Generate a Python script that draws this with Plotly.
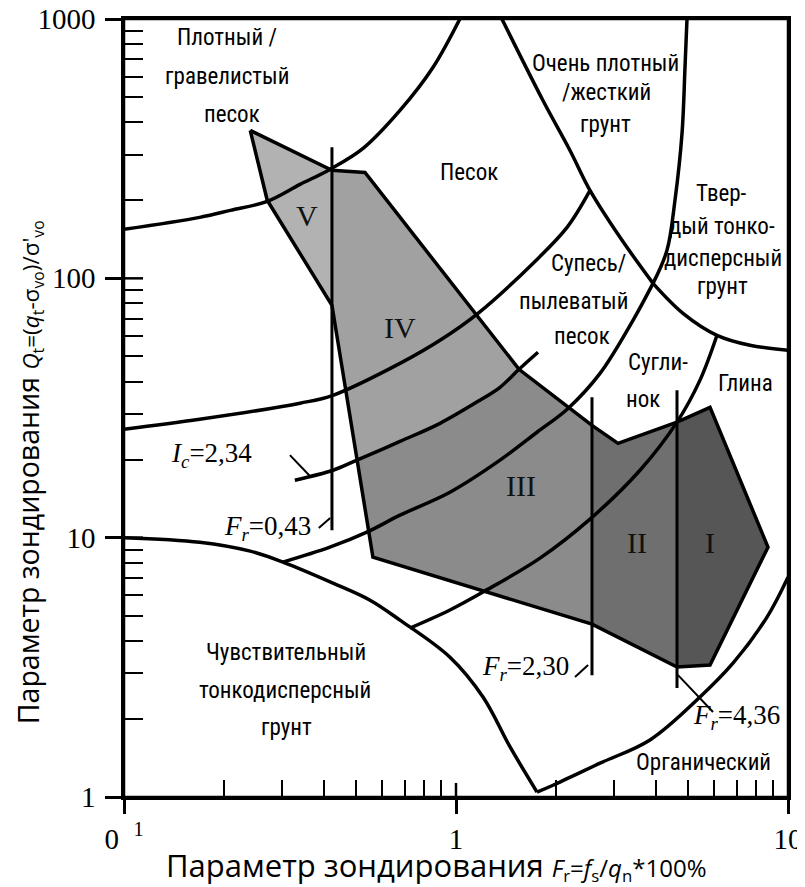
import plotly.graph_objects as go

# ---------------- data (Fr, %  /  Qt) ----------------
# zone 1 (sensitive fine-grained) upper boundary
z1_fr = [0.1, 0.169, 0.240, 0.301, 0.426, 0.551, 0.678, 0.959, 1.206, 1.455, 1.754]
z1_qt = [10.0, 9.6, 8.87, 8.05, 6.68, 5.74, 4.81, 3.46, 2.43, 1.56, 1.045]
# zone 2 (organic) upper boundary
z2_fr = [1.754, 1.960, 2.715, 3.840, 5.432, 6.828, 8.645, 10.0]
z2_qt = [1.045, 1.11, 1.35, 1.66, 2.43, 3.28, 4.94, 7.04]
# clay / silty clay boundary
b34_fr = [0.727, 0.959, 1.206, 1.791, 2.533, 3.583, 4.631, 5.432, 6.111]
b34_qt = [4.48, 5.26, 6.17, 8.34, 11.79, 18.2, 27.9, 40.5, 60.3]
# silty clay / sandy silt boundary
b45_fr = [0.301, 0.417, 0.539, 0.678, 0.959, 1.357, 1.754, 2.175, 2.715, 3.413, 3.921]
b45_qt = [8.05, 9.19, 10.5, 12.21, 14.97, 19.9, 25.5, 31.5, 43.0, 68.9, 95.65]
# sandy silt / sand boundary
b56_fr = [0.1, 0.169, 0.339, 0.426, 0.678, 0.895, 1.165, 1.705, 2.160, 2.533]
b56_qt = [26.2, 28.6, 33.0, 35.4, 47.0, 57.7, 73.3, 114.2, 157.2, 218.3]
# sand / gravelly sand boundary
b67_fr = [0.1, 0.169, 0.209, 0.270, 0.339, 0.417, 0.525, 0.678, 0.852, 1.027]
b67_qt = [154.5, 171.8, 182.8, 198.1, 230.2, 263.0, 317.0, 444.0, 650.0, 1000.0]
# very dense / stiff soil boundary
b8_fr = [1.375, 1.828, 2.205, 2.533, 3.119, 3.921]
b8_qt = [1000.0, 485.0, 311.3, 218.3, 143.9, 95.65]
# very stiff fine-grained: left and lower boundaries
b9l_fr = [4.963, 4.895, 4.795, 4.566, 4.320, 3.921]
b9l_qt = [1000.0, 650.0, 362.0, 199.8, 128.2, 95.65]
b9b_fr = [3.921, 4.828, 6.111, 7.683, 10.0]
b9b_qt = [95.65, 73.3, 60.3, 55.2, 52.8]
# Ic = 2.34 contour
ic_fr = [0.327, 0.426, 0.503, 0.678, 0.895, 1.181, 1.357, 1.548, 1.766]
ic_qt = [16.66, 18.2, 19.9, 23.5, 27.6, 33.9, 38.0, 44.6, 51.9]
# Fr limit lines
fr_lines = [0.423, 2.568, 4.631]
fr_top = [320.0, 34.8, 37.0]
fr_bot = [10.69, 2.95, 2.63]
# shaded field (groups I..V)
zV_fr = [0.240, 0.423, 0.423, 0.270]
zV_qt = [372.0, 261.0, 78.7, 200.0]
zIV_fr = [0.423, 0.532, 1.548, 1.357, 1.181, 0.895, 0.678, 0.503, 0.423]
zIV_qt = [261.0, 256.0, 44.6, 38.0, 33.9, 27.6, 23.5, 19.9, 78.7]
zIII_fr = [0.503, 0.678, 0.895, 1.181, 1.357, 1.548, 2.568, 2.568, 0.562]
zIII_qt = [19.9, 23.5, 27.6, 33.9, 38.0, 44.6, 27.1, 4.64, 8.41]
zII_fr = [2.568, 3.076, 4.631, 4.631, 2.568]
zII_qt = [27.1, 23.1, 27.9, 3.17, 4.64]
zI_fr = [4.631, 5.823, 8.705, 5.823, 4.631]
zI_qt = [27.9, 31.8, 9.19, 3.23, 3.17]
outline_fr = [0.240, 0.423, 0.532, 1.548, 2.568, 3.076, 4.631, 5.823, 8.705,
              5.823, 4.631, 2.568, 0.562, 0.423, 0.270, 0.240]
outline_qt = [372.0, 261.0, 256.0, 44.6, 27.1, 23.1, 27.9, 31.8, 9.19,
              3.23, 3.17, 4.64, 8.41, 78.7, 200.0, 372.0]
# leader lines for labels
lead_ic_fr = [0.316, 0.366]
lead_ic_qt = [20.8, 17.1]
lead_043_fr = [0.386, 0.418]
lead_043_qt = [10.9, 11.9]
lead_230_fr = [2.283, 2.50]
lead_230_qt = [2.90, 3.23]
lead_436_fr = [4.664, 5.945]
lead_436_qt = [2.95, 2.127]

# tick values
x_major = [0.1, 1, 10]
x_major_text = ["0\u00a0\u00a0<sup>1</sup>", "1", "10"]
y_major = [1, 10, 100, 1000]
y_major_text = ["1", "10", "100", "1000"]
x_minor = [0.2, 0.3, 0.4, 0.5, 0.6, 0.7, 0.8, 0.9, 2, 3, 4, 5, 6, 7, 8, 9]
y_minor = [m * d for d in (1, 10, 100) for m in range(2, 10)]

zone_colors = ["#b2b2b2", "#a1a1a1", "#8b8b8b", "#6f6f6f", "#565656"]

fig = go.Figure()

for (fx, fy), col in zip([(zV_fr, zV_qt), (zIV_fr, zIV_qt), (zIII_fr, zIII_qt),
                          (zII_fr, zII_qt), (zI_fr, zI_qt)], zone_colors):
    fig.add_trace(go.Scatter(x=fx, y=fy, mode="lines", fill="toself", fillcolor=col,
                             line=dict(width=0, color=col), hoverinfo="skip", showlegend=False))

fig.add_trace(go.Scatter(x=outline_fr, y=outline_qt, mode="lines",
                         line=dict(color="black", width=3.5), hoverinfo="skip", showlegend=False))

for fx, fy in [(z1_fr, z1_qt), (z2_fr, z2_qt), (b34_fr, b34_qt), (b45_fr, b45_qt),
               (b56_fr, b56_qt), (b67_fr, b67_qt), (b8_fr, b8_qt), (b9l_fr, b9l_qt),
               (b9b_fr, b9b_qt), (ic_fr, ic_qt)]:
    fig.add_trace(go.Scatter(x=fx, y=fy, mode="lines",
                             line=dict(color="black", width=3.5, shape="spline", smoothing=1.0),
                             hoverinfo="skip", showlegend=False))

for f, t, b in zip(fr_lines, fr_top, fr_bot):
    fig.add_trace(go.Scatter(x=[f, f], y=[t, b], mode="lines",
                             line=dict(color="black", width=3), hoverinfo="skip", showlegend=False))

for fx, fy in [(lead_ic_fr, lead_ic_qt), (lead_043_fr, lead_043_qt),
               (lead_230_fr, lead_230_qt), (lead_436_fr, lead_436_qt)]:
    fig.add_trace(go.Scatter(x=fx, y=fy, mode="lines",
                             line=dict(color="black", width=2), hoverinfo="skip", showlegend=False))

# ---------------- text ----------------
# plot-area edges in screen pixels (page has an 8px body margin)
L, R, T, B = 124, 788, 18.5, 797
OFF = 8
FIG_W, FIG_H = 805 - OFF, 887 - OFF


def pp(px, py):
    return (px - L) / (R - L), (B - py) / (B - T)


SANS = "Liberation Sans Narrow, Arial Narrow, Roboto Condensed, Roboto, sans-serif"
SERIF = "Liberation Serif, Times New Roman, serif"
TITLE = "Open Sans, sans-serif"

sans_labels = [
    ("Плотный /", 227, 37), ("гравелистый", 227, 76), ("песок", 232, 114),
    ("Песок", 469, 172),
    ("Очень плотный", 605, 63), ("/жесткий", 606, 92), ("грунт", 605, 124),
    ("Твер-", 721, 193), ("дый тонко-", 722, 226), ("дисперсный", 723, 258), ("грунт", 722, 286),
    ("Супесь/", 588, 263), ("пылеватый", 573, 301), ("песок", 582, 336),
    ("Сугли-", 658, 362), ("нок", 643, 399),
    ("Глина", 745, 383),
    ("Чувствительный", 286, 652), ("тонкодисперсный", 285, 690), ("грунт", 286, 727),
    ("Органический", 703, 762),
]
serif_labels = [
    ("V", 307, 215), ("IV", 400, 327), ("III", 521, 485), ("II", 637, 542), ("I", 710, 542),
]
fr_labels = [
    ("<i>I</i><sub><i>c</i></sub>=2,34", 211, 455),
    ("<i>F</i><sub><i>r</i></sub>=0,43", 267, 528),
    ("<i>F</i><sub><i>r</i></sub>=2,30", 525, 668),
    ("<i>F</i><sub><i>r</i></sub>=4,36", 736, 717),
]

annotations = []
for txt, x, y in sans_labels:
    ax, ay = pp(x, y)
    annotations.append(dict(text=txt, x=ax, y=ay, xref="paper", yref="paper", showarrow=False,
                            xanchor="center", yanchor="middle",
                            font=dict(family=SANS, size=23, color="black")))
for txt, x, y in serif_labels:
    ax, ay = pp(x, y)
    annotations.append(dict(text=txt, x=ax, y=ay, xref="paper", yref="paper", showarrow=False,
                            xanchor="center", yanchor="middle",
                            font=dict(family=SERIF, size=30, color="#111111")))
for txt, x, y in fr_labels:
    ax, ay = pp(x, y)
    annotations.append(dict(text=txt, x=ax, y=ay, xref="paper", yref="paper", showarrow=False,
                            xanchor="center", yanchor="middle",
                            font=dict(family=SERIF, size=27, color="black")))

# axis titles
x_title = ("Параметр зондирования <span style='font-size:24px'><i>F</i><sub>r</sub>=<i>f</i><sub>s</sub>"
           "/<i>q</i><sub>n</sub>*100%</span>")
y_title = ("Параметр зондирования <span style='font-size:22.5px'><i>Q</i><sub>t</sub>=(<i>q</i><sub>t</sub>"
           "-σ<sub>vo</sub>)/σ'<sub>vo</sub></span>")
ax_, ay_ = pp(436, 866)
annotations.append(dict(text=x_title, x=ax_, y=ay_, xref="paper", yref="paper", showarrow=False,
                        xanchor="center", yanchor="middle",
                        font=dict(family=TITLE, size=31, color="black")))
ax_, ay_ = pp(29, 472)
annotations.append(dict(text=y_title, x=ax_, y=ay_, xref="paper", yref="paper", showarrow=False,
                        textangle=-90, xanchor="center", yanchor="middle",
                        font=dict(family=TITLE, size=28.5, color="black")))

# frame and inner halves of the major ticks
shapes = [
    dict(type="rect", xref="paper", yref="paper", x0=0, x1=1, y0=0, y1=1,
         line=dict(color="black", width=2.5), fillcolor="rgba(0,0,0,0)", layer="above"),
    dict(type="line", xref="paper", yref="paper", x0=0.5, x1=0.5, y0=0, y1=14 / (B - T),
         line=dict(color="black", width=2.5)),
    dict(type="line", xref="paper", yref="paper", x0=0, x1=19 / (R - L), y0=1 / 3, y1=1 / 3,
         line=dict(color="black", width=2.5)),
    dict(type="line", xref="paper", yref="paper", x0=0, x1=19 / (R - L), y0=2 / 3, y1=2 / 3,
         line=dict(color="black", width=2.5)),
]

fig.update_layout(
    width=FIG_W, height=FIG_H,
    margin=dict(l=L - OFF, r=805 - R, t=T - OFF, b=887 - B, autoexpand=False),
    paper_bgcolor="white", plot_bgcolor="white",
    annotations=annotations, shapes=shapes,
    showlegend=False,
)
fig.update_xaxes(
    type="log", range=[-1, 1], showgrid=False, zeroline=False, automargin=False,
    showline=True, linecolor="black", linewidth=2.5, mirror=True,
    tickmode="array", tickvals=x_major, ticktext=x_major_text,
    ticks="outside", ticklen=14, tickwidth=2.5, tickcolor="black",
    ticklabeloverflow="allow",
    tickfont=dict(family=SERIF, size=29, color="black"),
    minor=dict(tickmode="array", tickvals=x_minor, ticks="inside", ticklen=17,
               tickwidth=2, tickcolor="black", showgrid=False),
)
fig.update_yaxes(
    type="log", range=[0, 3], showgrid=False, zeroline=False, automargin=False,
    showline=True, linecolor="black", linewidth=2.5, mirror=True,
    tickmode="array", tickvals=y_major, ticktext=y_major_text,
    ticks="outside", ticklen=16, tickwidth=2.5, tickcolor="black",
    ticklabelstandoff=4, ticklabeloverflow="allow",
    tickfont=dict(family=SERIF, size=29, color="black"),
    minor=dict(tickmode="array", tickvals=y_minor, ticks="inside", ticklen=19,
               tickwidth=2, tickcolor="black", showgrid=False),
)

fig.write_html("out.html")
